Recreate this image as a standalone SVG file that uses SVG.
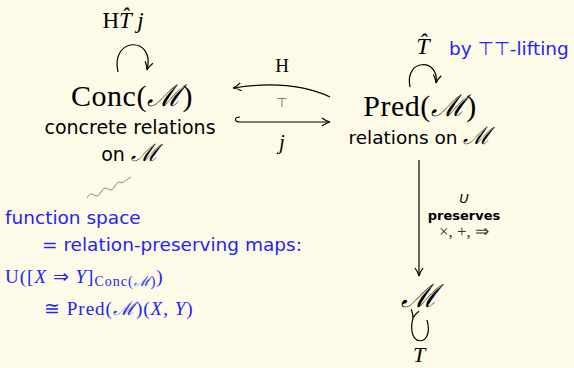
<svg xmlns="http://www.w3.org/2000/svg" width="574" height="368" viewBox="0 0 574 368">
<defs>
<marker id="ah" viewBox="0 0 10 10" refX="9" refY="5" markerWidth="10" markerHeight="10" markerUnits="userSpaceOnUse" orient="auto">
<path d="M1,1 Q5,4 9,5 Q5,6 1,9" fill="none" stroke="#000" stroke-width="1.2"/>
</marker>
<style>
.bg{fill:#fdfbe8}
.ser{font-family:"Liberation Serif",serif;fill:#000}
.sans{font-family:"DejaVu Sans","Liberation Sans",sans-serif;fill:#000}
.it{font-style:italic}
.blue{fill:#2323f5}
.ln{fill:none;stroke:#000;stroke-width:1.2}
.lbl{text-anchor:middle}
</style>
</defs>
<rect class="bg" x="0" y="0" width="574" height="368"/>
<g id="conc">
<text class="ser lbl" x="123" y="28" font-size="23">H<tspan class="it">T̂ j</tspan></text>
<text class="ser lbl" x="132" y="106" font-size="30" letter-spacing="0.5">Conc(<tspan class="it">ℳ</tspan>)</text>
<text class="sans lbl" x="130" y="134" font-size="19">concrete relations</text>
<text class="sans lbl" x="130" y="161" font-size="19">on <tspan class="ser it" font-size="24">ℳ</tspan></text>
</g>
<g id="pred">
<text class="ser it lbl" x="423" y="54" font-size="24">T̂</text>
<text class="sans blue" x="449" y="55" font-size="18.5">by ⊤⊤-lifting</text>
<text class="ser lbl" x="420" y="116" font-size="30" letter-spacing="0.5">Pred(<tspan class="it">ℳ</tspan>)</text>
<text class="sans lbl" x="420" y="144" font-size="18.5">relations on <tspan class="ser it" font-size="24">ℳ</tspan></text>
</g>
<g id="m">
<text class="ser it lbl" x="419" y="307" font-size="32">ℳ</text>
<text class="ser it lbl" x="419" y="362" font-size="22">T</text>
</g>
<g id="note">
<text class="sans blue" x="5" y="224" font-size="18.5">function space</text>
<text class="sans blue" x="42" y="251" font-size="18.5">= relation-preserving maps:</text>
<text class="ser blue" x="5" y="283" font-size="19" letter-spacing="1">U([<tspan class="it">X</tspan> ⇒ <tspan class="it">Y</tspan>]<tspan font-size="14" dy="3">Conc(<tspan class="it">ℳ</tspan>)</tspan><tspan dy="-3">)</tspan></text>
<text class="ser blue" x="44" y="315" font-size="19" letter-spacing="1">≅ Pred(<tspan class="it">ℳ</tspan>)(<tspan class="it">X</tspan>, <tspan class="it">Y</tspan>)</text>
</g>
<g id="connectors">
<path class="ln" d="M118,72 C110,36 156,36 147,70" marker-end="url(#ah)"/>
<path class="ln" d="M410,87 C404,58 440,58 436,83" marker-end="url(#ah)"/>
<path class="ln" d="M330,97 C300,83 265,83 233,88" marker-end="url(#ah)"/>
<path class="ln" d="M240,117 C234,117 234,122 240,122 L330,122" marker-end="url(#ah)"/>
<path class="ln" d="M419,160 L419,276" marker-end="url(#ah)"/>
<path class="ln" d="M413,318 C405,348 435,348 427,320" marker-start="url(#ah)"/>
<path d="M87,198 q3,-6 7,-3 t7,-3 t7,-3 t7,-3 t7,-3 l9,-6" fill="none" stroke="#888" stroke-width="1"/>
</g>
<g id="labels">
<text class="ser lbl" x="282" y="72" font-size="19">H</text>
<text class="sans lbl" x="282" y="107" font-size="13" style="fill:#666">⊤</text>
<text class="ser it lbl" x="282" y="149" font-size="21">j</text>
<text class="sans it lbl" x="464" y="203" font-size="13">U</text>
<text class="sans lbl" x="464" y="220" font-size="13" font-weight="bold">preserves</text>
<text class="ser lbl" x="464" y="237" font-size="17" style="fill:#333">×, +, ⇒</text>
</g>
</svg>
